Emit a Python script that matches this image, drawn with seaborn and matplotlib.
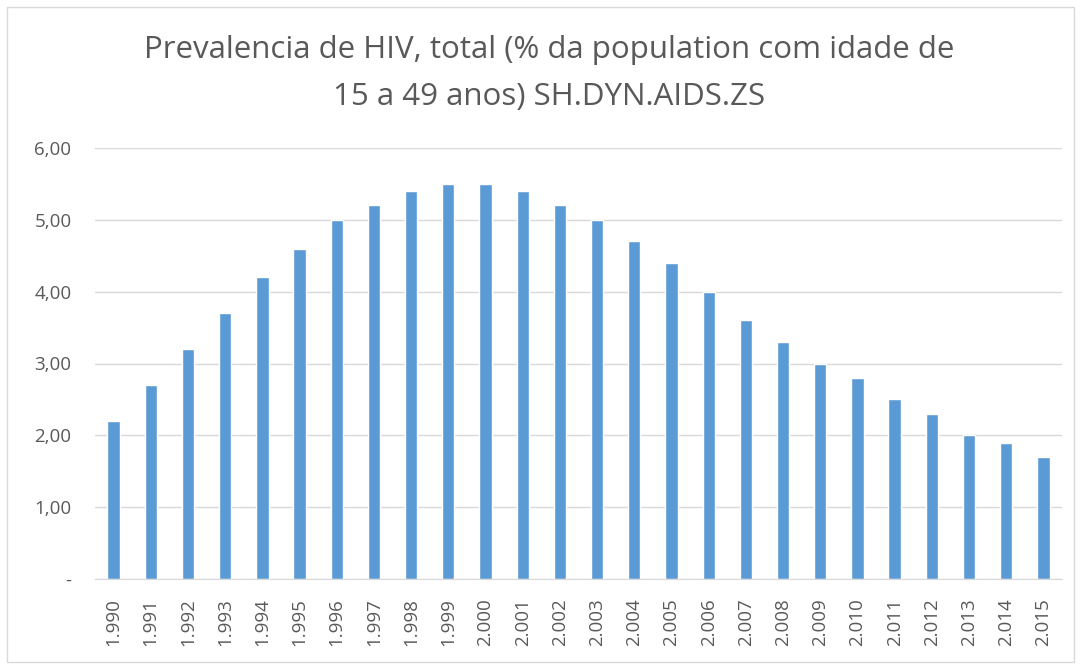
import matplotlib
matplotlib.use("Agg")
import matplotlib.pyplot as plt
import seaborn as sns
import pandas as pd
from matplotlib.patches import Rectangle

# ── Data ───────────────────────────────────────────
years = [str(y) for y in range(1990, 2016)]
year_labels = [f"{y[0]}.{y[1:]}" for y in years]
prevalence = [2.2, 2.7, 3.2, 3.7, 4.2, 4.6, 5.0, 5.2, 5.4, 5.5, 5.5, 5.4, 5.2,
              5.0, 4.7, 4.4, 4.0, 3.6, 3.3, 3.0, 2.8, 2.5, 2.3, 2.0, 1.9, 1.7]
y_ticks = [0, 1, 2, 3, 4, 5, 6]
y_tick_labels = ["-", "1,00", "2,00", "3,00", "4,00", "5,00", "6,00"]

df = pd.DataFrame({"year": years, "value": prevalence})

sns.set_style("white")
plt.rcParams["font.family"] = ["Open Sans", "DejaVu Sans"]

TEXT = "#595959"
BAR = "#5B9BD5"

fig = plt.figure(figsize=(10.81, 6.70), dpi=100)
ax = fig.add_axes([95 / 1081, 1 - 579 / 670, (1062 - 95) / 1081, (579 - 148) / 670])

sns.barplot(data=df, x="year", y="value", color=BAR, width=0.33,
            saturation=1, ax=ax)

ax.set_ylim(0, 6)
ax.set_yticks(y_ticks)
ax.set_yticklabels(y_tick_labels, color=TEXT, fontsize=13.5)
ax.set_xticks(range(len(years)))
ax.set_xticklabels(year_labels, rotation=90, color=TEXT, fontsize=13.5)
ax.tick_params(axis="y", length=0, pad=17)
ax.tick_params(axis="x", length=0, pad=14)
ax.set_xlim(-0.5, len(years) - 0.5)
ax.yaxis.grid(True, color="#D9D9D9", linewidth=1)
ax.set_axisbelow(True)
for side in ["top", "right", "left"]:
    ax.spines[side].set_visible(False)
ax.spines["bottom"].set_color("#D9D9D9")
ax.set_xlabel("")
ax.set_ylabel("")

fig.text(0.508, 1 - 50 / 670,
         "Prevalencia de HIV, total (% da population com idade de",
         ha="center", va="center", fontsize=22.5, color=TEXT)
fig.text(0.508, 1 - 97 / 670, "15 a 49 anos) SH.DYN.AIDS.ZS",
         ha="center", va="center", fontsize=22.5, color=TEXT)

fig.patches.append(Rectangle((7 / 1081, 8 / 670), 1067 / 1081, 655 / 670,
                             transform=fig.transFigure, fill=False,
                             edgecolor="#D9D9D9", linewidth=1))

plt.savefig("out.png", dpi=100)
plt.close()
